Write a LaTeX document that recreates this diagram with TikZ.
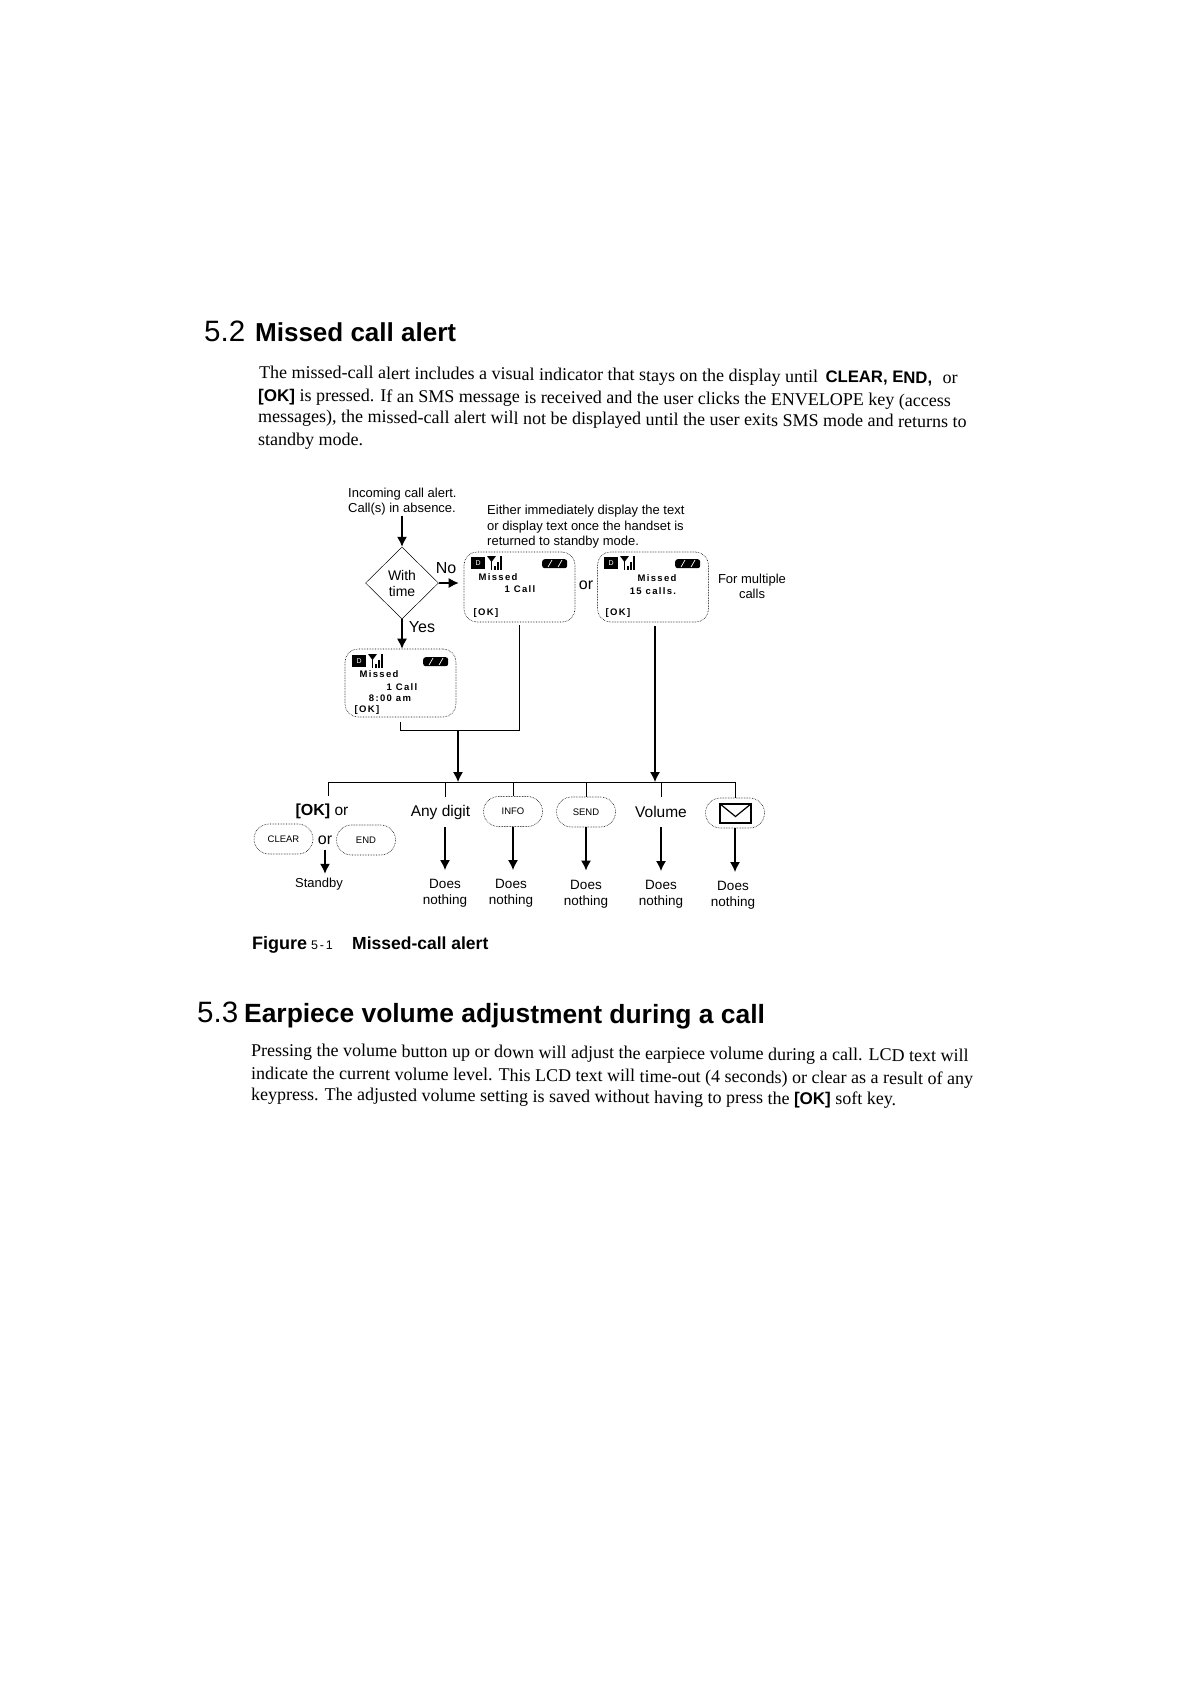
\documentclass[tikz,border=0pt]{standalone}
\usepackage{fontspec}
\setmainfont{Liberation Serif}
\setsansfont{Liberation Sans}
\newfontfamily\lcdfont[LetterSpace=14]{Liberation Sans}
\usetikzlibrary{positioning, shapes.geometric, arrows.meta}

\newcommand{\bodyfont}{\fontsize{18}{20}\selectfont\rmfamily}
\newcommand{\okkey}[1]{{\fontsize{#1}{20}\selectfont\sffamily\bfseries [OK]}}

% status row of a handset display: box name, left edge, top edge
\newcommand{\statusrow}[3]{
  \node[dbox, anchor=north west] (#1d) at (#2+7,#3+5) {D};
  \fill (#2+23,#3+4) -- (#2+32,#3+4) -- (#2+27.5,#3+10) -- cycle;
  \draw[line width=1.3pt] (#2+27.5,#3+6) -- (#2+27.5,#3+18);
  \draw[line width=1.3pt] (#2+31,#3+18) -- (#2+31,#3+14);
  \draw[line width=1.3pt] (#2+34,#3+18) -- (#2+34,#3+10);
  \draw[line width=1.3pt] (#2+37,#3+18) -- (#2+37,#3+4);
  \node[battery, anchor=north west] (#1b) at (#2+78,#3+7) {};
  \draw[white, line width=.7pt] (#2+84,#3+15) -- (#2+88,#3+8);
  \draw[white, line width=.7pt] (#2+94,#3+15) -- (#2+98,#3+8);
}

\begin{document}
\begin{tikzpicture}[
  x=1pt, y=-1pt,
  bodyline/.style={anchor=base west, inner sep=0, rotate=-0.45, font=\bodyfont},
  headnum/.style={anchor=base west, inner sep=0, rotate=-0.2, font=\fontsize{29.5}{30}\selectfont\sffamily},
  headtext/.style={anchor=base west, inner sep=0, rotate=-0.2, font=\fontsize{26}{30}\selectfont\sffamily\bfseries},
  smalltext/.style={inner sep=0, align=left, font=\fontsize{13}{15}\selectfont\sffamily},
  midtext/.style={inner sep=0, align=center, font=\fontsize{16}{18}\selectfont\sffamily},
  result/.style={inner xsep=0, inner ysep=9pt, align=center, font=\fontsize{13.5}{16}\selectfont\sffamily},
  rowtext/.style={inner sep=0, minimum height=30pt, font=\fontsize{15.5}{18}\selectfont\sffamily},
  decision/.style={diamond, draw, line width=.5pt, inner sep=0, minimum width=73pt, minimum height=72pt, align=center, font=\fontsize{14}{16}\selectfont\sffamily},
  screen/.style={rectangle, draw, densely dotted, line width=.6pt, rounded corners=13pt, minimum width=111pt, inner sep=0},
  softkey/.style={rectangle, draw, densely dotted, line width=.6pt, rounded corners=15pt, minimum width=59pt, minimum height=30pt, inner sep=0, font=\fontsize{9.5}{12}\selectfont\sffamily},
  lcdtext/.style={inner sep=0, font=\fontsize{9.5}{12}\selectfont\lcdfont\bfseries},
  dbox/.style={fill=black, text=white, inner sep=0, minimum width=14pt, minimum height=12pt, font=\fontsize{7}{8}\selectfont\sffamily},
  battery/.style={fill=black, rounded corners=2.5pt, inner sep=0, minimum width=25pt, minimum height=9pt},
  wire/.style={line width=1pt},
  arrow/.style={-{Latex[length=10pt,width=10pt]}, line width=1.2pt}
]
\useasboundingbox (0,0) rectangle (1182,1682);

% Section 5.2
\node[headnum] (numtwo) at (204,341) {5.2};
\node[headtext] (headtwo) at (255,341) {Missed call alert};
\node[bodyline] (lineone) at (259,378) {The missed-call alert includes a visual indicator that stays on the display until\hspace{3pt} {\fontsize{16.7}{20}\selectfont\sffamily\bfseries CLEAR, END,}\hspace{6pt} or};
\node[bodyline] (linetwo) at (258,401) {\okkey{17} is pressed. If an SMS message is received and the user clicks the ENVELOPE key (access};
\node[bodyline] (linethree) at (258,422) {messages), the missed-call alert will not be displayed until the user exits SMS mode and returns to};
\node[bodyline] (linefour) at (258,445) {standby mode.};

% Top of the chart
\node[smalltext, anchor=north west] (incoming) at (348,488) {Incoming call alert.\\Call(s) in absence.};
\node[smalltext, anchor=north west, font=\fontsize{13}{15.5}\selectfont\sffamily] (either) at (487,505) {Either immediately display the text\\or display text once the handset is\\returned to standby mode.};
\node[decision] (withtime) at (402,583) {With\\time};
\node[midtext] (nolabel) at (446,568) {No};
\node[midtext] (yeslabel) at (422,627) {Yes};
\node[screen, minimum height=70pt] (scrone) at (519.5,587) {};
\node[midtext] (orlabel) at (586,585) {or};
\node[screen, minimum height=70pt] (scrtwo) at (653,587) {};
\node[smalltext, align=center] (multiple) at (752,586) {For multiple\\calls};
\node[screen, minimum height=68pt] (scrthree) at (400.5,683) {};

% Display contents
\statusrow{one}{464}{552}
\node[lcdtext] (oneline) at (498,577) {Missed};
\node[lcdtext] (onecall) at (520,589) {1 Call};
\node[lcdtext] (oneok) at (486,613) {[OK]};
\statusrow{two}{597}{552}
\node[lcdtext] (twoline) at (657,578) {Missed};
\node[lcdtext] (twocall) at (653,591) {15 calls.};
\node[lcdtext] (twook) at (618,613) {[OK]};
\statusrow{three}{345}{650}
\node[lcdtext] (threeline) at (379,674) {Missed};
\node[lcdtext] (threecall) at (402,687) {1 Call};
\node[lcdtext] (threetime) at (390,698) {8:00 am};
\node[lcdtext] (threeok) at (367,710) {[OK]};

% Key row
\node[rowtext] (okor) at (322,811) {{\fontsize{16}{18}\selectfont\bfseries [OK]} or};
\node[softkey] (clearkey) at (283.5,839) {CLEAR};
\node[midtext] (orkeys) at (325,840) {or};
\node[softkey] (endkey) at (366,840) {END};
\node[rowtext] (anydigit) at (440.5,812) {Any digit};
\node[softkey] (infokey) at (513,811.5) {INFO};
\node[softkey] (sendkey) at (586,812) {SEND};
\node[rowtext] (volume) at (661,812) {Volume};
\node[softkey] (envkey) at (735,813) {};
\node[rectangle, draw, line width=1.2pt, minimum width=31pt, minimum height=19pt, inner sep=0] (envicon) at (735.5,813.5) {};
\draw[line width=1.2pt] (envicon.north west) -- ([yshift=-3pt]envicon.center) -- (envicon.north east);

% Results
\node[smalltext] (standby) at (319,884) {Standby};
\node[result, anchor=north] (doesa) at (445,870) {Does\\nothing};
\node[result, anchor=north] (doesb) at (511,870) {Does\\nothing};
\node[result, anchor=north] (doesc) at (586,870.5) {Does\\nothing};
\node[result, anchor=north] (doesd) at (661,871) {Does\\nothing};
\node[result, anchor=north] (doese) at (733,872) {Does\\nothing};

% Caption
\node[anchor=base west, inner sep=0, font=\fontsize{18}{18}\selectfont\sffamily\bfseries] (figword) at (252,949) {Figure};
\node[anchor=base west, inner sep=0, font=\fontsize{12.5}{14}\selectfont\lcdfont] (fignum) at (311,949) {5-1};
\node[anchor=base west, inner sep=0, font=\fontsize{17.5}{18}\selectfont\sffamily\bfseries] (figtext) at (352,949) {Missed-call alert};

% Section 5.3
\node[headnum] (numthree) at (197,1022) {5.3};
\node[headtext, font=\fontsize{26.4}{30}\selectfont\sffamily\bfseries] (headthree) at (244,1022) {Earpiece volume adjustment during a call};
\node[bodyline] (parone) at (251,1056) {Pressing the volume button up or down will adjust the earpiece volume during a call. LCD text will};
\node[bodyline] (partwo) at (251,1079) {indicate the current volume level. This LCD text will time-out (4 seconds) or clear as a result of any};
\node[bodyline] (parthree) at (251,1100) {keypress. The adjusted volume setting is saved without having to press the \okkey{17} soft key.};

% Joints
\coordinate (joinb) at (458,730);
\coordinate (busa) at (458,782);
\coordinate (busb) at (655,782);
\coordinate (busl) at (328.5,782);
\coordinate (busr) at (736,782);

% Arrows
\draw[arrow] (incoming.south -| withtime.north) -- (withtime.north);
\draw[arrow, shorten >=5pt] (withtime.east) -- (withtime.east -| scrone.west);
\draw[arrow] (withtime.south) -- (withtime.south |- scrthree.north);
\draw[wire, shorten <=5pt] (scrthree.south) |- (joinb);
\draw[wire, shorten >=3pt] (joinb) -| (scrone.south);
\draw[arrow] (joinb) -- (busa);
\draw[arrow, shorten <=4pt] (busb |- scrtwo.south) -- (busb);
\draw[wire] (busl) -- (busr);
\draw[wire] (busl) -- ([xshift=6.5pt]okor.north);
\draw[wire] (busl -| doesa.north) -- ([xshift=4.5pt]anydigit.north);
\foreach \keyname in {infokey, sendkey, volume, envkey}
  \draw[wire] (busl -| \keyname.north) -- (\keyname.north);
\draw[arrow] ([xshift=4.5pt]anydigit.south) -- (doesa.north);
\draw[arrow] (infokey.south) -- (infokey.south |- doesb.north);
\draw[arrow] (sendkey.south) -- (sendkey.south |- doesc.north);
\draw[arrow] (volume.south) -- (volume.south |- doesd.north);
\draw[arrow] (envkey.south) -- (envkey.south |- doese.north);
\draw[arrow, shorten <=5pt, shorten >=4pt] (orkeys.south) -- (orkeys.south |- standby.north);
\end{tikzpicture}
\end{document}
